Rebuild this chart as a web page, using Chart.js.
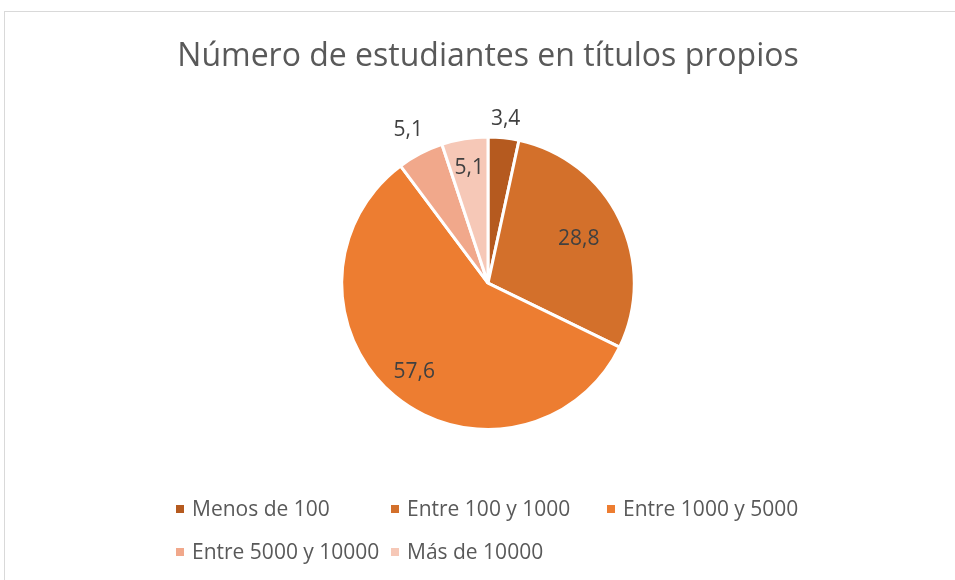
<!DOCTYPE html>
<html>
<head>
<meta charset="utf-8">
<script src="https://cdn.jsdelivr.net/npm/chart.js@4"></script>
<style>
  body { margin: 0; background: #fff; }
  #wrap { position: relative; width: 955px; height: 580px; overflow: hidden; }
  #frame { position: absolute; left: 4px; top: 11px; width: 1000px; height: 700px; border: 1px solid #d9d9d9; }
  canvas { position: absolute; left: 0; top: 0; }
  .leg { position: absolute; font-family: 'Open Sans', sans-serif; font-size: 21px; color: #595959; white-space: nowrap; line-height: 26px; }
  .leg i { display: inline-block; width: 8px; height: 8px; margin-right: 8px; vertical-align: 3px; }
</style>
</head>
<body>
<div id="wrap">
  <div id="frame"></div>
  <canvas id="pie" width="955" height="580"></canvas>
  <div id="legend"></div>
</div>
<script>
// chart data
const categories = ['Menos de 100', 'Entre 100 y 1000', 'Entre 1000 y 5000', 'Entre 5000 y 10000', 'Más de 10000'];
const values = [3.4, 28.8, 57.6, 5.1, 5.1];
const colors = ['#B55A1F', '#D3702B', '#ED7D31', '#F1A88B', '#F6C8B7'];
// where each value label sits, as a fraction of the radius
const labelRadius = [1.13, 0.69, 0.79, 1.18, 0.8];

// data labels drawn on each arc
const pieLabels = {
    id: 'pieLabels',
    afterDatasetsDraw(chart) {
        const ctx = chart.ctx;
        const arcs = chart.getDatasetMeta(0).data;
        ctx.save();
        ctx.font = '21px "Open Sans", sans-serif';
        ctx.fillStyle = '#404040';
        ctx.textAlign = 'center';
        ctx.textBaseline = 'middle';
        arcs.forEach((arc, i) => {
            const { x, y, startAngle, endAngle, outerRadius } = arc.getProps(['x', 'y', 'startAngle', 'endAngle', 'outerRadius'], true);
            const mid = (startAngle + endAngle) / 2;
            const r = outerRadius * labelRadius[i];
            const txt = values[i].toFixed(1).replace('.', ',');
            ctx.fillText(txt, x + Math.cos(mid) * r, y + Math.sin(mid) * r);
        });
        ctx.restore();
    }
};

new Chart(document.getElementById('pie').getContext('2d'), {
    type: 'pie',
    data: {
        labels: categories,
        datasets: [{
            data: values,
            backgroundColor: colors,
            borderColor: '#ffffff',
            borderWidth: 3
        }]
    },
    options: {
        responsive: false,
        animation: false,
        layout: { padding: { left: 21, right: 0, top: 0, bottom: 149 } },
        plugins: {
            legend: { display: false },
            tooltip: { enabled: false },
            title: {
                display: true,
                text: 'Número de estudiantes en títulos propios',
                color: '#595959',
                font: { family: "'Open Sans', sans-serif", size: 32, weight: 'normal' },
                padding: { top: 38, bottom: 59 }
            }
        }
    },
    plugins: [pieLabels]
});

// legend laid out in columns like the original
const legendPos = [[176, 495], [391, 495], [607, 495], [176, 538], [391, 538]];
const legend = document.getElementById('legend');
categories.forEach((c, i) => {
    const d = document.createElement('div');
    d.className = 'leg';
    d.style.left = legendPos[i][0] + 'px';
    d.style.top = legendPos[i][1] + 'px';
    d.innerHTML = `<i style="background:${colors[i]}"></i>${c}`;
    legend.appendChild(d);
});
</script>
</body>
</html>
